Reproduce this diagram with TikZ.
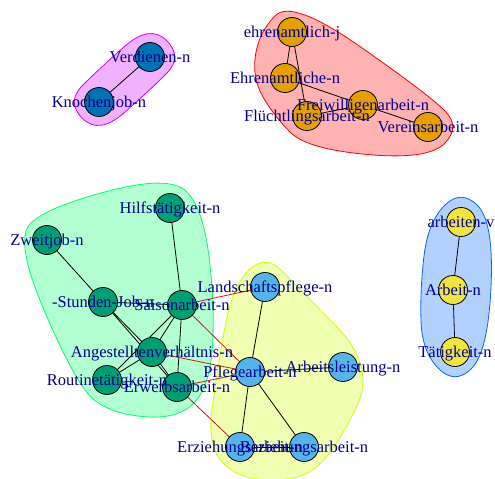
\documentclass[tikz,border=0pt]{standalone}
\usepackage{fontspec}
\setmainfont{Liberation Serif}
\usetikzlibrary{calc}

% vertex colours (one per community)
\definecolor{cOrange}{HTML}{E69F00}
\definecolor{cSky}{HTML}{56B4E9}
\definecolor{cGreen}{HTML}{009E73}
\definecolor{cYellow}{HTML}{F0E442}
\definecolor{cBlue}{HTML}{0072B2}
% community hull colours
\definecolor{hRed}{HTML}{FF0000}
\definecolor{hLime}{HTML}{CCFF00}
\definecolor{hMint}{HTML}{00FF66}
\definecolor{hAzure}{HTML}{0066FF}
\definecolor{hViolet}{HTML}{CC00FF}
\definecolor{lblblue}{HTML}{00008B}
\definecolor{crossred}{HTML}{D01818}

\pgfdeclarelayer{hulls}
\pgfdeclarelayer{links}
\pgfdeclarelayer{texts}
\pgfsetlayers{hulls,links,main,texts}

\newcommand\hullgap{33}
% smooth closed outline (quadratic B-spline) around the listed corner points
% #1 colour, #2 list of vertex/dx/dy
\newcommand\grouphull[2]{%
  \foreach [count=\i] \v/\dx/\dy in {#2} {
    \coordinate (hv\i) at ($(\v)+(\dx,\dy)$);
    \xdef\hullcount{\i}
  }
  \foreach \i in {1,...,\hullcount} {
    \pgfmathtruncatemacro\j{mod(\i,\hullcount)+1}
    \coordinate (hm\i) at ($(hv\i)!0.5!(hv\j)$);
  }
  \foreach \i in {1,...,\hullcount} {
    \pgfmathtruncatemacro\k{mod(\i+\hullcount-2,\hullcount)+1}
    \coordinate (ca\i) at ($(hm\k)!2/3!(hv\i)$);
    \coordinate (cb\i) at ($(hm\i)!2/3!(hv\i)$);
  }
  \path[hull, fill=#1, draw=#1] (hm\hullcount)
    \foreach \i in {1,...,\hullcount} { .. controls (ca\i) and (cb\i) .. (hm\i) } -- cycle;
}

\tikzset{
  vtx/.style={circle, draw=black, line width=0.8bp, minimum size=29bp,
              inner sep=0pt, outer sep=0pt},
  lbl/.style={text=lblblue, anchor=base, yshift=-5.5bp, inner sep=0pt,
              font=\fontsize{16.5bp}{19bp}\selectfont},
  hull/.style={fill opacity=0.3, line width=0.8bp},
  ein/.style={draw=black, line width=0.8bp},
  ecross/.style={draw=crossred, line width=0.8bp},
}

\begin{document}
\begin{tikzpicture}[x=1bp, y=-1bp]
\useasboundingbox (0,0) rectangle (495,479);

% vertices
\node[vtx, fill=cBlue]   (verd)    at (150,57)  {};
\node[vtx, fill=cBlue]   (knoch)   at (99,102)  {};

\node[vtx, fill=cOrange] (ehrj)    at (292,32)  {};
\node[vtx, fill=cOrange] (ehrn)    at (285,78)  {};
\node[vtx, fill=cOrange] (frei)    at (363,105) {};
\node[vtx, fill=cOrange] (fluecht) at (307,116) {};
\node[vtx, fill=cOrange] (verein)  at (428,127) {};

\node[vtx, fill=cGreen]  (hilf)    at (170,208) {};
\node[vtx, fill=cGreen]  (zweit)   at (47,240)  {};
\node[vtx, fill=cGreen]  (stunden) at (103,302) {};
\node[vtx, fill=cGreen]  (saison)  at (182,305) {};
\node[vtx, fill=cGreen]  (angest)  at (152,352) {};
\node[vtx, fill=cGreen]  (routine) at (107,380) {};
\node[vtx, fill=cGreen]  (erwerb)  at (177,387) {};

\node[vtx, fill=cSky]    (landsch) at (265,287) {};
\node[vtx, fill=cSky]    (pflege)  at (250,372) {};
\node[vtx, fill=cSky]    (leist)   at (343,367) {};
\node[vtx, fill=cSky]    (erzieh)  at (240,447) {};
\node[vtx, fill=cSky]    (bezieh)  at (304,447) {};

\node[vtx, fill=cYellow] (arbv)    at (461,222) {};
\node[vtx, fill=cYellow] (arbn)    at (453,290) {};
\node[vtx, fill=cYellow] (taetig)  at (455,352) {};

% community hulls
\begin{pgfonlayer}{hulls}
\grouphull{hRed}{ehrj/0/-\hullgap, verein/0/-\hullgap, verein/\hullgap/0,
  verein/0/\hullgap, fluecht/0/\hullgap, fluecht/-\hullgap/0,
  ehrn/-\hullgap/0, ehrj/-\hullgap/0}
\grouphull{hLime}{landsch/0/-\hullgap, landsch/\hullgap/0, leist/\hullgap/0,
  bezieh/\hullgap/0, bezieh/0/\hullgap, erzieh/0/\hullgap, erzieh/-\hullgap/0,
  pflege/-\hullgap/0, landsch/-\hullgap/0}
\grouphull{hMint}{hilf/0/-\hullgap, hilf/\hullgap/0, saison/\hullgap/0,
  erwerb/\hullgap/0, erwerb/0/\hullgap, routine/0/\hullgap,
  routine/-\hullgap/0, zweit/-\hullgap/0, zweit/0/-\hullgap}
\grouphull{hAzure}{arbv/0/-\hullgap, arbv/\hullgap/0, taetig/\hullgap/0,
  taetig/0/\hullgap, taetig/-\hullgap/0, arbn/-\hullgap/0, arbv/-\hullgap/0}
\grouphull{hViolet}{verd/0/-\hullgap, verd/\hullgap/0, verd/0/\hullgap,
  knoch/0/\hullgap, knoch/-\hullgap/0, knoch/0/-\hullgap}
\end{pgfonlayer}

% edges
\begin{pgfonlayer}{links}
\draw[ein] (verd) -- (knoch);
\draw[ein] (ehrj) -- (ehrn);
\draw[ein] (ehrj) -- (fluecht);
\draw[ein] (ehrn) -- (frei);
\draw[ein] (fluecht) -- (frei);
\draw[ein] (frei) -- (verein);
\draw[ein] (hilf) -- (saison);
\draw[ein] (zweit) -- (stunden);
\draw[ein] (stunden) -- (saison);
\draw[ein] (stunden) -- (angest);
\draw[ein] (stunden) -- (erwerb);
\draw[ein] (saison) -- (angest);
\draw[ein] (saison) -- (routine);
\draw[ein] (saison) -- (erwerb);
\draw[ein] (angest) -- (routine);
\draw[ein] (angest) -- (erwerb);
\draw[ein] (landsch) -- (pflege);
\draw[ein] (pflege) -- (leist);
\draw[ein] (pflege) -- (erzieh);
\draw[ein] (pflege) -- (bezieh);
\draw[ein] (erzieh) -- (bezieh);
\draw[ein] (arbv) -- (arbn);
\draw[ein] (arbn) -- (taetig);
\draw[ecross] (saison) -- (landsch);
\draw[ecross] (saison) -- (pflege);
\draw[ecross] (angest) -- (pflege);
\draw[ecross] (erwerb) -- (pflege);
\draw[ecross] (erwerb) -- (erzieh);
\end{pgfonlayer}

% vertex labels
\begin{pgfonlayer}{texts}
\node[lbl] (t-verd)    at (verd)    {Verdienen-n};
\node[lbl] (t-knoch)   at (knoch)   {Knochenjob-n};
\node[lbl] (t-ehrj)    at (ehrj)    {ehrenamtlich-j};
\node[lbl] (t-ehrn)    at (ehrn)    {Ehrenamtliche-n};
\node[lbl] (t-frei)    at (frei)    {Freiwilligenarbeit-n};
\node[lbl] (t-fluecht) at (fluecht) {Flüchtlingsarbeit-n};
\node[lbl] (t-verein)  at (verein)  {Vereinsarbeit-n};
\node[lbl] (t-hilf)    at (hilf)    {Hilfstätigkeit-n};
\node[lbl] (t-zweit)   at (zweit)   {Zweitjob-n};
\node[lbl] (t-stunden) at (stunden) {-Stunden-Job-n};
\node[lbl] (t-saison)  at (saison)  {Saisonarbeit-n};
\node[lbl] (t-angest)  at (angest)  {Angestelltenverhältnis-n};
\node[lbl] (t-routine) at (routine) {Routinetätigkeit-n};
\node[lbl] (t-erwerb)  at (erwerb)  {Erwerbsarbeit-n};
\node[lbl] (t-landsch) at (landsch) {Landschaftspflege-n};
\node[lbl] (t-pflege)  at (pflege)  {Pflegearbeit-n};
\node[lbl] (t-leist)   at (leist)   {Arbeitsleistung-n};
\node[lbl] (t-erzieh)  at (erzieh)  {Erziehungsarbeit-n};
\node[lbl] (t-bezieh)  at (bezieh)  {Beziehungsarbeit-n};
\node[lbl] (t-arbv)    at (arbv)    {arbeiten-v};
\node[lbl] (t-arbn)    at (arbn)    {Arbeit-n};
\node[lbl] (t-taetig)  at (taetig)  {Tätigkeit-n};
\end{pgfonlayer}
\end{tikzpicture}
\end{document}
